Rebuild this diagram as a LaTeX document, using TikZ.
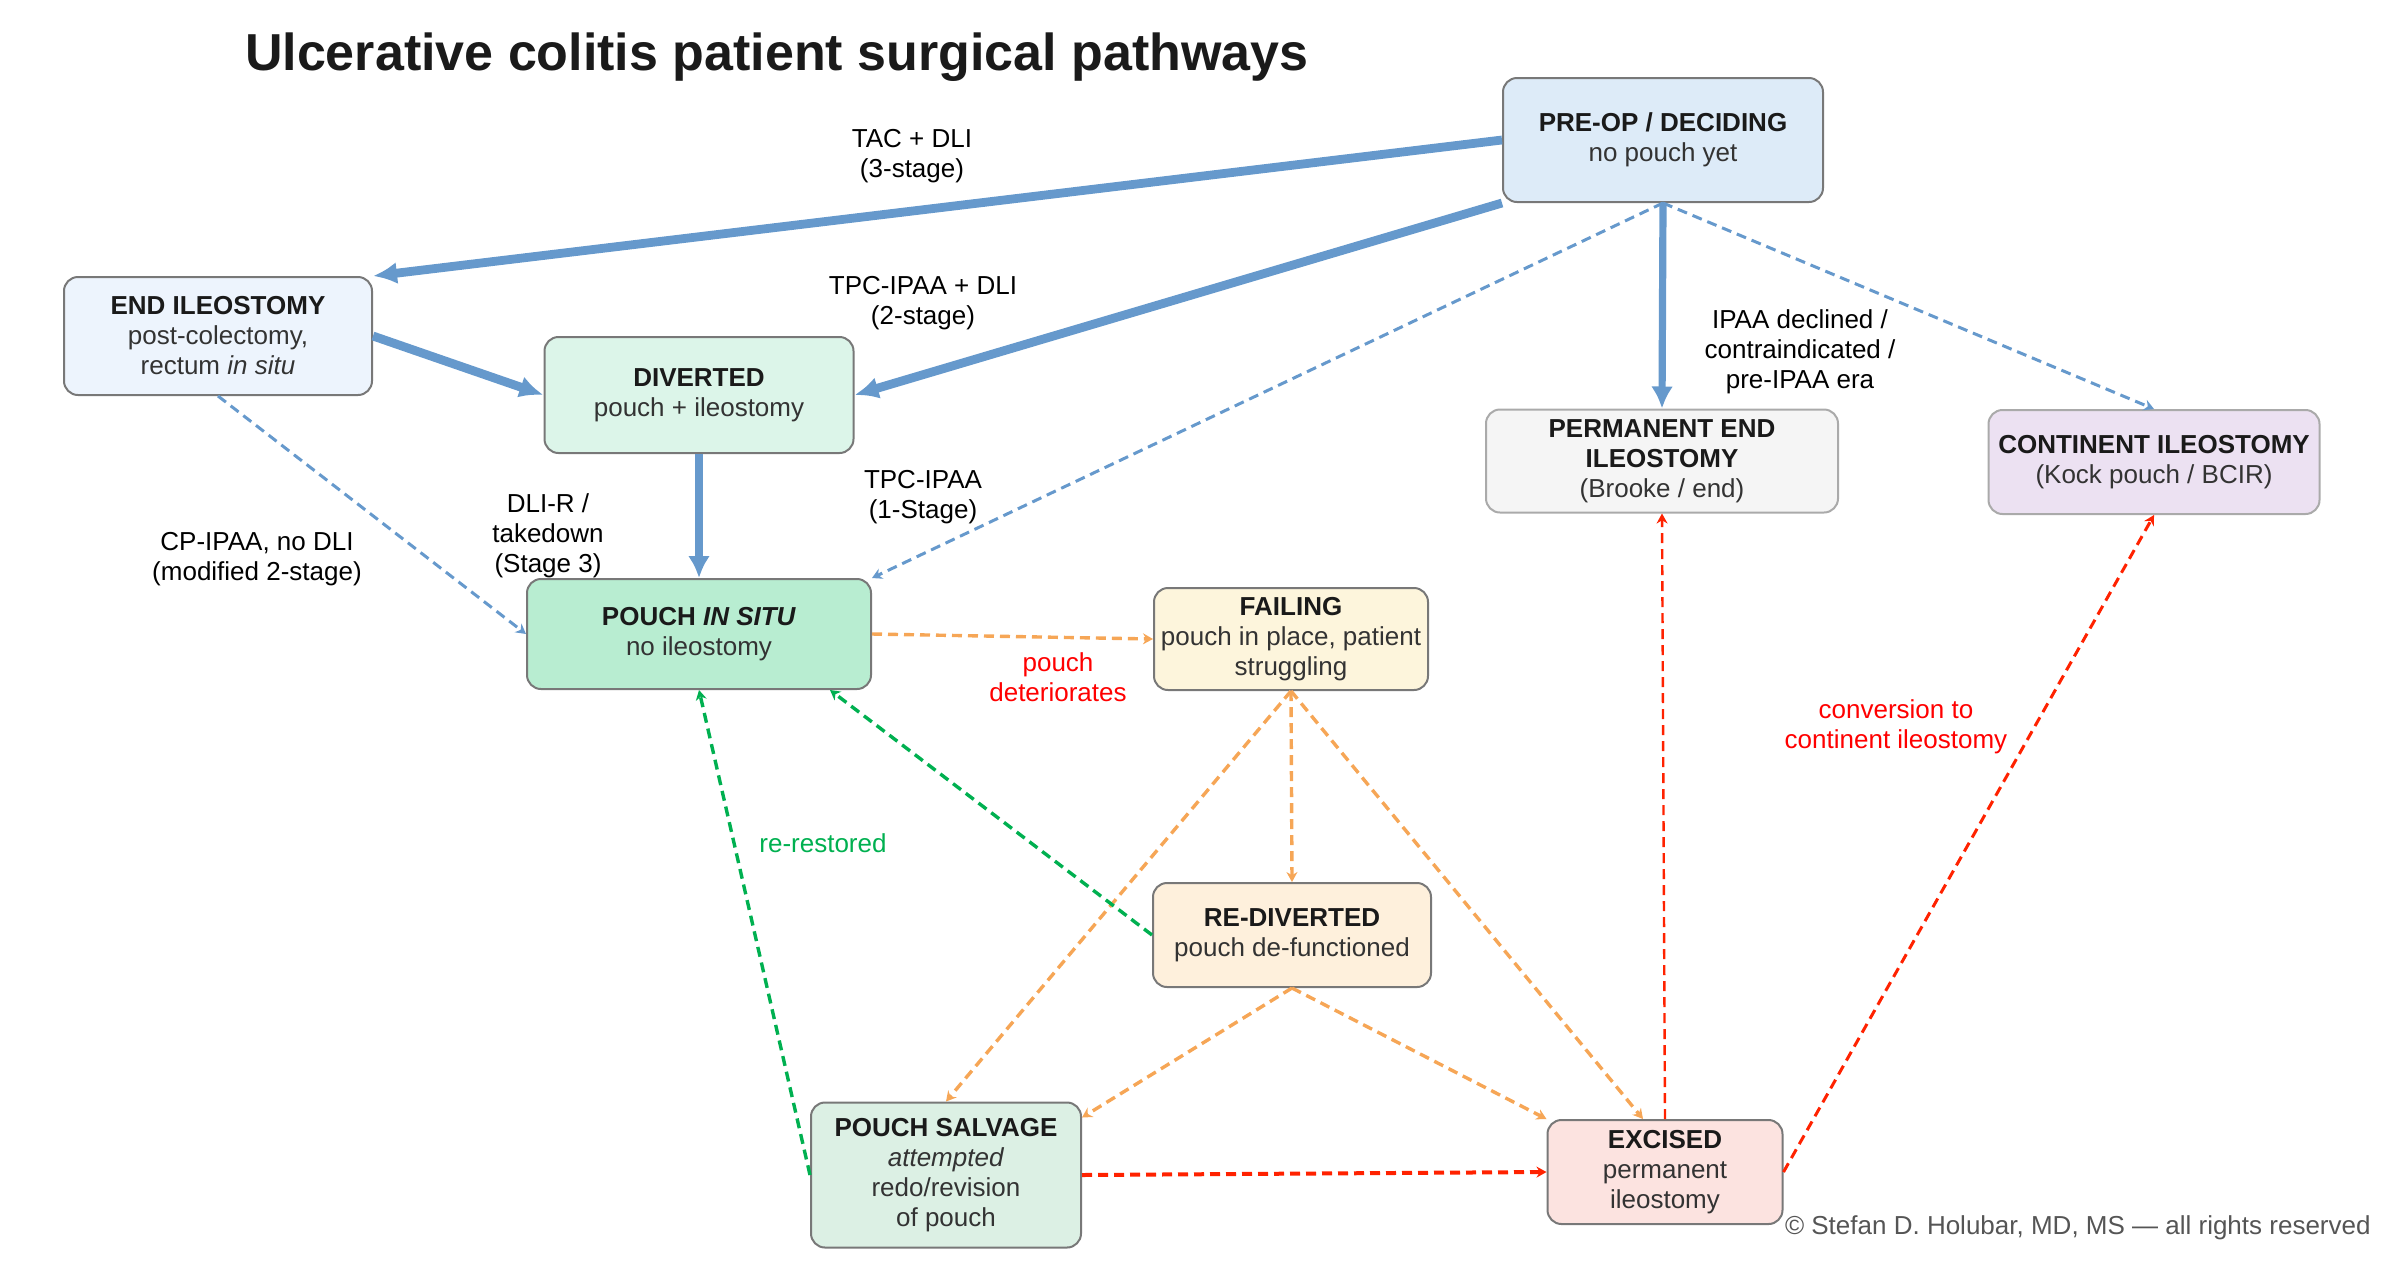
\documentclass[tikz,border=0pt]{standalone}
\usepackage{fontspec}
\setmainfont{Liberation Sans}
\usepackage{tikz}
\usetikzlibrary{arrows.meta}
\definecolor{azul}{RGB}{102,153,204}
\definecolor{naranja}{RGB}{246,166,86}
\definecolor{verde}{RGB}{0,176,80}
\definecolor{rojo}{RGB}{255,34,0}
\definecolor{borde}{RGB}{120,120,120}
\definecolor{bordeclaro}{RGB}{170,170,170}
\definecolor{titulo}{RGB}{26,26,26}
\definecolor{subtexto}{RGB}{51,51,51}
\definecolor{gristexto}{RGB}{85,85,85}
\definecolor{fpreop}{RGB}{221,235,248}
\definecolor{fileo}{RGB}{237,244,253}
\definecolor{fdiv}{RGB}{220,245,233}
\definecolor{fsitu}{RGB}{184,237,209}
\definecolor{fperm}{RGB}{245,245,245}
\definecolor{fcont}{RGB}{236,225,242}
\definecolor{ffail}{RGB}{253,245,220}
\definecolor{fredv}{RGB}{254,240,220}
\definecolor{fsalv}{RGB}{220,240,228}
\definecolor{fexc}{RGB}{252,227,224}
\begin{document}
\begin{tikzpicture}[x=0.5pt, y=-0.5pt,
  estado/.style={draw=borde, fill=#1, line width=1pt, rounded corners=7pt,
                 align=center, font=\fontsize{13}{15}\selectfont,
                 text=subtexto, inner sep=2pt},
  etiq/.style={font=\fontsize{13}{15}\selectfont, align=center, text=black},
  grueso/.style={azul, line width=4.4pt, -{Latex[length=12pt,width=11pt]}},
  medio/.style={azul, line width=3.6pt, -{Latex[length=11pt,width=11pt]}},
  punteado/.style={#1, line width=1.7pt, dash pattern=on 5pt off 3pt,
                   -{Stealth[length=5pt,width=5.5pt]}}]
  \useasboundingbox (0,0) rectangle (2400,1266);
  \node[anchor=base west, font=\fontsize{26}{30}\selectfont\bfseries, text=titulo]
     (tit) at (238,70) {Ulcerative colitis patient surgical pathways};
  \node[estado=fpreop, minimum width=160pt, minimum height=62pt] (pre) at (1663,140)
     {\textbf{\color{titulo}PRE-OP / DECIDING}\\no pouch yet};
  \node[estado=fileo, minimum width=154pt, minimum height=59pt] (endi) at (218,336)
     {\textbf{\color{titulo}END ILEOSTOMY}\\post-colectomy,\\rectum \textit{in situ}};
  \node[estado=fdiv, minimum width=154.5pt, minimum height=58pt] (div) at (699,395)
     {\textbf{\color{titulo}DIVERTED}\\pouch + ileostomy};
  \node[estado=fsitu, minimum width=172pt, minimum height=55pt] (situ) at (699,634)
     {\textbf{\color{titulo}POUCH \textit{IN SITU}}\\no ileostomy};
  \node[estado=fperm, draw=bordeclaro, minimum width=176pt, minimum height=51.5pt]
     (perm) at (1662,461)
     {\textbf{\color{titulo}PERMANENT END}\\\textbf{\color{titulo}ILEOSTOMY}\\(Brooke / end)};
  \node[estado=fcont, draw=bordeclaro, minimum width=165.5pt, minimum height=52pt]
     (cont) at (2154,462)
     {\textbf{\color{titulo}CONTINENT ILEOSTOMY}\\(Kock pouch / BCIR)};
  \node[estado=ffail, minimum width=137pt, minimum height=51pt] (fail) at (1291,639)
     {\textbf{\color{titulo}FAILING}\\pouch in place, patient\\struggling};
  \node[estado=fredv, minimum width=139pt, minimum height=52pt] (redv) at (1292,935)
     {\textbf{\color{titulo}RE-DIVERTED}\\pouch de-functioned};
  \node[estado=fsalv, minimum width=135pt, minimum height=72.5pt] (salv) at (946,1175)
     {\textbf{\color{titulo}POUCH SALVAGE}\\\textit{attempted}\\redo/revision\\of pouch};
  \node[estado=fexc, minimum width=117.5pt, minimum height=52pt] (exc) at (1665,1172)
     {\textbf{\color{titulo}EXCISED}\\permanent\\ileostomy};
  \node[etiq] (ltac) at (912,156) {TAC + DLI\\(3-stage)};
  \node[etiq] (ltpcd) at (923,303) {TPC-IPAA + DLI\\(2-stage)};
  \node[etiq] (ldecl) at (1800,352) {IPAA declined /\\contraindicated /\\pre-IPAA era};
  \node[etiq] (lcp) at (257,559) {CP-IPAA, no DLI\\(modified 2-stage)};
  \node[etiq] (ldlir) at (548,536) {DLI-R /\\takedown\\(Stage 3)};
  \node[etiq] (ltpc) at (923,497) {TPC-IPAA\\(1-Stage)};
  \node[etiq, text=red] (ldet) at (1058,677) {pouch\\deteriorates};
  \node[etiq, text=verde] (lrest) at (823,843) {re-restored};
  \node[etiq, text=red] (lconv) at (1896,727) {conversion to\\continent ileostomy};
  \node[etiq, anchor=east, inner sep=0pt, text=gristexto] (copy) at (2371,1228)
     {© Stefan D. Holubar, MD, MS — all rights reserved};
  \draw[grueso] (pre.west) -- (endi.north east);
  \draw[grueso] (pre.south west) -- (div.east);
  \draw[grueso] (endi.east) -- (div.west);
  \draw[medio] (div.south) -- (situ.north);
  \draw[medio] (pre.south) -- (perm.north);
  \draw[punteado=azul, line width=1.5pt] (pre.south) -- (situ.north east);
  \draw[punteado=azul, line width=1.5pt] (pre.south) -- (cont.north);
  \draw[punteado=azul, line width=1.5pt] (endi.south) -- (situ.west);
  \draw[punteado=naranja] (situ.east) -- (fail.west);
  \draw[punteado=naranja] (fail.south) -- (redv.north);
  \draw[punteado=naranja] (fail.south) -- (salv.north);
  \draw[punteado=naranja] (fail.south) -- ([xshift=-11pt]exc.north);
  \draw[punteado=naranja] (redv.south) -- ([yshift=-8pt]salv.north east);
  \draw[punteado=naranja] (redv.south) -- (exc.north west);
  \draw[punteado=verde] (redv.west) -- ([xshift=-21pt]situ.south east);
  \draw[punteado=verde] (salv.west) -- (situ.south);
  \draw[punteado=rojo, line width=2pt] (salv.east) -- (exc.west);
  \draw[punteado=rojo, line width=1.2pt] (exc.north) -- (perm.south);
  \draw[punteado=rojo, line width=1.5pt] (exc.east) -- (cont.south);
\end{tikzpicture}
\end{document}
